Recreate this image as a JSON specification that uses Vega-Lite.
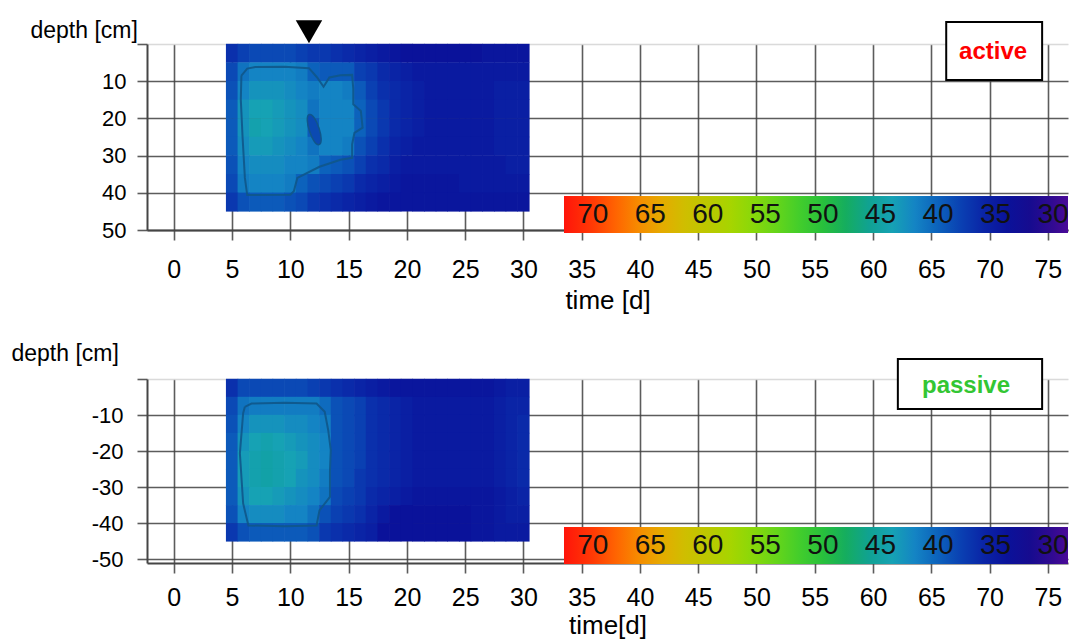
{
"$schema": "https://vega.github.io/schema/vega-lite/v6.json",
"autosize": {"type": "none"},
"padding": {"left": 147, "top": 44, "right": 923, "bottom": 595},
"background": "white",
"config": {
 "view": {"stroke": null},
 "font": "Liberation Sans",
 "axis": {"labelFont": "Liberation Sans", "titleFont": "Liberation Sans", "labelColor": "#000", "titleColor": "#000", "titleFontWeight": "normal", "gridColor": "#404040", "gridWidth": 1.6, "gridOpacity": 0.85, "tickColor": "#404040", "tickWidth": 1.6, "tickOpacity": 0.85, "tickSize": 10, "domainColor": "#454545", "domainWidth": 2, "labelFlush": false, "labelOverlap": false}
},
"datasets": {
 "active": [
{"t":5,"d":2.5,"v":37},{"t":6,"d":2.5,"v":38},{"t":7,"d":2.5,"v":38.5},{"t":8,"d":2.5,"v":38.5},{"t":9,"d":2.5,"v":38.5},{"t":10,"d":2.5,"v":38.5},{"t":11,"d":2.5,"v":38},{"t":12,"d":2.5,"v":37.5},{"t":13,"d":2.5,"v":37.5},{"t":14,"d":2.5,"v":37},{"t":15,"d":2.5,"v":36.5},{"t":16,"d":2.5,"v":36},{"t":17,"d":2.5,"v":35.5},{"t":18,"d":2.5,"v":35},{"t":19,"d":2.5,"v":34.5},{"t":20,"d":2.5,"v":34},{"t":21,"d":2.5,"v":34},{"t":22,"d":2.5,"v":34},{"t":23,"d":2.5,"v":34},{"t":24,"d":2.5,"v":34},{"t":25,"d":2.5,"v":34},{"t":26,"d":2.5,"v":34},{"t":27,"d":2.5,"v":34.5},{"t":28,"d":2.5,"v":34.5},{"t":29,"d":2.5,"v":34.5},{"t":30,"d":2.5,"v":34.5},
{"t":5,"d":7.5,"v":38.5},{"t":6,"d":7.5,"v":41},{"t":7,"d":7.5,"v":42},{"t":8,"d":7.5,"v":42},{"t":9,"d":7.5,"v":42},{"t":10,"d":7.5,"v":42},{"t":11,"d":7.5,"v":41.5},{"t":12,"d":7.5,"v":40},{"t":13,"d":7.5,"v":39.5},{"t":14,"d":7.5,"v":39.5},{"t":15,"d":7.5,"v":39.5},{"t":16,"d":7.5,"v":38},{"t":17,"d":7.5,"v":37.5},{"t":18,"d":7.5,"v":36.5},{"t":19,"d":7.5,"v":36},{"t":20,"d":7.5,"v":35.5},{"t":21,"d":7.5,"v":35},{"t":22,"d":7.5,"v":35},{"t":23,"d":7.5,"v":35},{"t":24,"d":7.5,"v":35},{"t":25,"d":7.5,"v":35},{"t":26,"d":7.5,"v":35},{"t":27,"d":7.5,"v":35},{"t":28,"d":7.5,"v":35},{"t":29,"d":7.5,"v":35},{"t":30,"d":7.5,"v":35},
{"t":5,"d":12.5,"v":39},{"t":6,"d":12.5,"v":42},{"t":7,"d":12.5,"v":43},{"t":8,"d":12.5,"v":43},{"t":9,"d":12.5,"v":43},{"t":10,"d":12.5,"v":42.5},{"t":11,"d":12.5,"v":42},{"t":12,"d":12.5,"v":41.5},{"t":13,"d":12.5,"v":42},{"t":14,"d":12.5,"v":42},{"t":15,"d":12.5,"v":41.5},{"t":16,"d":12.5,"v":39.5},{"t":17,"d":12.5,"v":38},{"t":18,"d":12.5,"v":37},{"t":19,"d":12.5,"v":36.5},{"t":20,"d":12.5,"v":36},{"t":21,"d":12.5,"v":35.5},{"t":22,"d":12.5,"v":35},{"t":23,"d":12.5,"v":35},{"t":24,"d":12.5,"v":35},{"t":25,"d":12.5,"v":35},{"t":26,"d":12.5,"v":35},{"t":27,"d":12.5,"v":35},{"t":28,"d":12.5,"v":35.5},{"t":29,"d":12.5,"v":35.5},{"t":30,"d":12.5,"v":35.5},
{"t":5,"d":17.5,"v":39.5},{"t":6,"d":17.5,"v":43},{"t":7,"d":17.5,"v":44},{"t":8,"d":17.5,"v":44},{"t":9,"d":17.5,"v":43.5},{"t":10,"d":17.5,"v":43},{"t":11,"d":17.5,"v":42.5},{"t":12,"d":17.5,"v":41},{"t":13,"d":17.5,"v":42},{"t":14,"d":17.5,"v":42},{"t":15,"d":17.5,"v":42},{"t":16,"d":17.5,"v":40},{"t":17,"d":17.5,"v":38.5},{"t":18,"d":17.5,"v":37.5},{"t":19,"d":17.5,"v":36.5},{"t":20,"d":17.5,"v":36},{"t":21,"d":17.5,"v":35.5},{"t":22,"d":17.5,"v":35},{"t":23,"d":17.5,"v":35},{"t":24,"d":17.5,"v":35},{"t":25,"d":17.5,"v":35},{"t":26,"d":17.5,"v":35},{"t":27,"d":17.5,"v":35},{"t":28,"d":17.5,"v":35.5},{"t":29,"d":17.5,"v":35.5},{"t":30,"d":17.5,"v":35.5},
{"t":5,"d":22.5,"v":39.5},{"t":6,"d":22.5,"v":43},{"t":7,"d":22.5,"v":44.5},{"t":8,"d":22.5,"v":44},{"t":9,"d":22.5,"v":43.5},{"t":10,"d":22.5,"v":43},{"t":11,"d":22.5,"v":42.5},{"t":12,"d":22.5,"v":39.5},{"t":13,"d":22.5,"v":42},{"t":14,"d":22.5,"v":42},{"t":15,"d":22.5,"v":42},{"t":16,"d":22.5,"v":40},{"t":17,"d":22.5,"v":38.5},{"t":18,"d":22.5,"v":37.5},{"t":19,"d":22.5,"v":36.5},{"t":20,"d":22.5,"v":36},{"t":21,"d":22.5,"v":35.5},{"t":22,"d":22.5,"v":35},{"t":23,"d":22.5,"v":35},{"t":24,"d":22.5,"v":35},{"t":25,"d":22.5,"v":35},{"t":26,"d":22.5,"v":35},{"t":27,"d":22.5,"v":35},{"t":28,"d":22.5,"v":35.5},{"t":29,"d":22.5,"v":35.5},{"t":30,"d":22.5,"v":35.5},
{"t":5,"d":27.5,"v":39.5},{"t":6,"d":27.5,"v":42.5},{"t":7,"d":27.5,"v":43.5},{"t":8,"d":27.5,"v":43.5},{"t":9,"d":27.5,"v":43},{"t":10,"d":27.5,"v":42.5},{"t":11,"d":27.5,"v":42},{"t":12,"d":27.5,"v":41},{"t":13,"d":27.5,"v":42},{"t":14,"d":27.5,"v":42},{"t":15,"d":27.5,"v":41.5},{"t":16,"d":27.5,"v":39},{"t":17,"d":27.5,"v":38},{"t":18,"d":27.5,"v":37},{"t":19,"d":27.5,"v":36},{"t":20,"d":27.5,"v":35.5},{"t":21,"d":27.5,"v":35},{"t":22,"d":27.5,"v":35},{"t":23,"d":27.5,"v":35},{"t":24,"d":27.5,"v":35},{"t":25,"d":27.5,"v":35},{"t":26,"d":27.5,"v":35},{"t":27,"d":27.5,"v":35},{"t":28,"d":27.5,"v":35.5},{"t":29,"d":27.5,"v":35.5},{"t":30,"d":27.5,"v":35.5},
{"t":5,"d":32.5,"v":39},{"t":6,"d":32.5,"v":42},{"t":7,"d":32.5,"v":42.5},{"t":8,"d":32.5,"v":42.5},{"t":9,"d":32.5,"v":42.5},{"t":10,"d":32.5,"v":42},{"t":11,"d":32.5,"v":42},{"t":12,"d":32.5,"v":41.5},{"t":13,"d":32.5,"v":40},{"t":14,"d":32.5,"v":39.5},{"t":15,"d":32.5,"v":39},{"t":16,"d":32.5,"v":38},{"t":17,"d":32.5,"v":37},{"t":18,"d":32.5,"v":36.5},{"t":19,"d":32.5,"v":35.5},{"t":20,"d":32.5,"v":35},{"t":21,"d":32.5,"v":35},{"t":22,"d":32.5,"v":35},{"t":23,"d":32.5,"v":35},{"t":24,"d":32.5,"v":35},{"t":25,"d":32.5,"v":35},{"t":26,"d":32.5,"v":35},{"t":27,"d":32.5,"v":35},{"t":28,"d":32.5,"v":35},{"t":29,"d":32.5,"v":35.5},{"t":30,"d":32.5,"v":35.5},
{"t":5,"d":37.5,"v":38.5},{"t":6,"d":37.5,"v":41.5},{"t":7,"d":37.5,"v":42},{"t":8,"d":37.5,"v":42},{"t":9,"d":37.5,"v":42},{"t":10,"d":37.5,"v":41.5},{"t":11,"d":37.5,"v":40},{"t":12,"d":37.5,"v":39},{"t":13,"d":37.5,"v":38.5},{"t":14,"d":37.5,"v":38},{"t":15,"d":37.5,"v":37.5},{"t":16,"d":37.5,"v":36.5},{"t":17,"d":37.5,"v":36},{"t":18,"d":37.5,"v":35.5},{"t":19,"d":37.5,"v":35},{"t":20,"d":37.5,"v":34.5},{"t":21,"d":37.5,"v":34.5},{"t":22,"d":37.5,"v":34.5},{"t":23,"d":37.5,"v":34.5},{"t":24,"d":37.5,"v":34.5},{"t":25,"d":37.5,"v":35},{"t":26,"d":37.5,"v":35},{"t":27,"d":37.5,"v":35},{"t":28,"d":37.5,"v":35},{"t":29,"d":37.5,"v":35},{"t":30,"d":37.5,"v":35},
{"t":5,"d":42.5,"v":37.5},{"t":6,"d":42.5,"v":39},{"t":7,"d":42.5,"v":39.5},{"t":8,"d":42.5,"v":39.5},{"t":9,"d":42.5,"v":39.5},{"t":10,"d":42.5,"v":39},{"t":11,"d":42.5,"v":38.5},{"t":12,"d":42.5,"v":37.5},{"t":13,"d":42.5,"v":37},{"t":14,"d":42.5,"v":36.5},{"t":15,"d":42.5,"v":36},{"t":16,"d":42.5,"v":35.5},{"t":17,"d":42.5,"v":35},{"t":18,"d":42.5,"v":34.5},{"t":19,"d":42.5,"v":34.5},{"t":20,"d":42.5,"v":34.5},{"t":21,"d":42.5,"v":34.5},{"t":22,"d":42.5,"v":34.5},{"t":23,"d":42.5,"v":34.5},{"t":24,"d":42.5,"v":34.5},{"t":25,"d":42.5,"v":34.5},{"t":26,"d":42.5,"v":34.5},{"t":27,"d":42.5,"v":34.5},{"t":28,"d":42.5,"v":34.5},{"t":29,"d":42.5,"v":34.5},{"t":30,"d":42.5,"v":34.5}
 ],
 "passive": [
{"t":5,"d":-2.5,"v":37},{"t":6,"d":-2.5,"v":38.5},{"t":7,"d":-2.5,"v":38.5},{"t":8,"d":-2.5,"v":38.5},{"t":9,"d":-2.5,"v":38.5},{"t":10,"d":-2.5,"v":38.5},{"t":11,"d":-2.5,"v":38.5},{"t":12,"d":-2.5,"v":38},{"t":13,"d":-2.5,"v":37.5},{"t":14,"d":-2.5,"v":37},{"t":15,"d":-2.5,"v":36.5},{"t":16,"d":-2.5,"v":36},{"t":17,"d":-2.5,"v":35.5},{"t":18,"d":-2.5,"v":35},{"t":19,"d":-2.5,"v":34.5},{"t":20,"d":-2.5,"v":34.5},{"t":21,"d":-2.5,"v":34.5},{"t":22,"d":-2.5,"v":34.5},{"t":23,"d":-2.5,"v":34.5},{"t":24,"d":-2.5,"v":34.5},{"t":25,"d":-2.5,"v":34.5},{"t":26,"d":-2.5,"v":34.5},{"t":27,"d":-2.5,"v":34.5},{"t":28,"d":-2.5,"v":35},{"t":29,"d":-2.5,"v":35.5},{"t":30,"d":-2.5,"v":35.5},
{"t":5,"d":-7.5,"v":38.5},{"t":6,"d":-7.5,"v":41},{"t":7,"d":-7.5,"v":41.5},{"t":8,"d":-7.5,"v":41.5},{"t":9,"d":-7.5,"v":41.5},{"t":10,"d":-7.5,"v":41.5},{"t":11,"d":-7.5,"v":41.5},{"t":12,"d":-7.5,"v":41.5},{"t":13,"d":-7.5,"v":40.5},{"t":14,"d":-7.5,"v":39},{"t":15,"d":-7.5,"v":38.5},{"t":16,"d":-7.5,"v":38},{"t":17,"d":-7.5,"v":37},{"t":18,"d":-7.5,"v":36.5},{"t":19,"d":-7.5,"v":36},{"t":20,"d":-7.5,"v":35.5},{"t":21,"d":-7.5,"v":35},{"t":22,"d":-7.5,"v":35},{"t":23,"d":-7.5,"v":35},{"t":24,"d":-7.5,"v":35},{"t":25,"d":-7.5,"v":35},{"t":26,"d":-7.5,"v":35},{"t":27,"d":-7.5,"v":35},{"t":28,"d":-7.5,"v":35.5},{"t":29,"d":-7.5,"v":36},{"t":30,"d":-7.5,"v":36},
{"t":5,"d":-12.5,"v":39},{"t":6,"d":-12.5,"v":42},{"t":7,"d":-12.5,"v":43},{"t":8,"d":-12.5,"v":43},{"t":9,"d":-12.5,"v":43},{"t":10,"d":-12.5,"v":42.5},{"t":11,"d":-12.5,"v":42.5},{"t":12,"d":-12.5,"v":42},{"t":13,"d":-12.5,"v":41.5},{"t":14,"d":-12.5,"v":39},{"t":15,"d":-12.5,"v":38.5},{"t":16,"d":-12.5,"v":38},{"t":17,"d":-12.5,"v":37},{"t":18,"d":-12.5,"v":36.5},{"t":19,"d":-12.5,"v":36},{"t":20,"d":-12.5,"v":35.5},{"t":21,"d":-12.5,"v":35},{"t":22,"d":-12.5,"v":35},{"t":23,"d":-12.5,"v":35},{"t":24,"d":-12.5,"v":35},{"t":25,"d":-12.5,"v":35},{"t":26,"d":-12.5,"v":35},{"t":27,"d":-12.5,"v":35},{"t":28,"d":-12.5,"v":35.5},{"t":29,"d":-12.5,"v":36},{"t":30,"d":-12.5,"v":36.5},
{"t":5,"d":-17.5,"v":39.5},{"t":6,"d":-17.5,"v":43},{"t":7,"d":-17.5,"v":44},{"t":8,"d":-17.5,"v":44.5},{"t":9,"d":-17.5,"v":44},{"t":10,"d":-17.5,"v":43.5},{"t":11,"d":-17.5,"v":43},{"t":12,"d":-17.5,"v":42.5},{"t":13,"d":-17.5,"v":42},{"t":14,"d":-17.5,"v":39},{"t":15,"d":-17.5,"v":38.5},{"t":16,"d":-17.5,"v":38},{"t":17,"d":-17.5,"v":37},{"t":18,"d":-17.5,"v":36.5},{"t":19,"d":-17.5,"v":36},{"t":20,"d":-17.5,"v":35.5},{"t":21,"d":-17.5,"v":35},{"t":22,"d":-17.5,"v":35},{"t":23,"d":-17.5,"v":35},{"t":24,"d":-17.5,"v":35},{"t":25,"d":-17.5,"v":35},{"t":26,"d":-17.5,"v":35},{"t":27,"d":-17.5,"v":35},{"t":28,"d":-17.5,"v":35.5},{"t":29,"d":-17.5,"v":36},{"t":30,"d":-17.5,"v":36.5},
{"t":5,"d":-22.5,"v":39.5},{"t":6,"d":-22.5,"v":43.5},{"t":7,"d":-22.5,"v":44.5},{"t":8,"d":-22.5,"v":45},{"t":9,"d":-22.5,"v":44.5},{"t":10,"d":-22.5,"v":44},{"t":11,"d":-22.5,"v":43.5},{"t":12,"d":-22.5,"v":42.5},{"t":13,"d":-22.5,"v":42},{"t":14,"d":-22.5,"v":39},{"t":15,"d":-22.5,"v":38.5},{"t":16,"d":-22.5,"v":38},{"t":17,"d":-22.5,"v":37},{"t":18,"d":-22.5,"v":36.5},{"t":19,"d":-22.5,"v":36},{"t":20,"d":-22.5,"v":35.5},{"t":21,"d":-22.5,"v":35},{"t":22,"d":-22.5,"v":35},{"t":23,"d":-22.5,"v":35},{"t":24,"d":-22.5,"v":35},{"t":25,"d":-22.5,"v":35},{"t":26,"d":-22.5,"v":35},{"t":27,"d":-22.5,"v":35},{"t":28,"d":-22.5,"v":35.5},{"t":29,"d":-22.5,"v":36},{"t":30,"d":-22.5,"v":36.5},
{"t":5,"d":-27.5,"v":39.5},{"t":6,"d":-27.5,"v":43.5},{"t":7,"d":-27.5,"v":44.5},{"t":8,"d":-27.5,"v":45},{"t":9,"d":-27.5,"v":44.5},{"t":10,"d":-27.5,"v":44},{"t":11,"d":-27.5,"v":43},{"t":12,"d":-27.5,"v":42.5},{"t":13,"d":-27.5,"v":41.5},{"t":14,"d":-27.5,"v":39},{"t":15,"d":-27.5,"v":38.5},{"t":16,"d":-27.5,"v":37.5},{"t":17,"d":-27.5,"v":37},{"t":18,"d":-27.5,"v":36.5},{"t":19,"d":-27.5,"v":36},{"t":20,"d":-27.5,"v":35.5},{"t":21,"d":-27.5,"v":35},{"t":22,"d":-27.5,"v":35},{"t":23,"d":-27.5,"v":35},{"t":24,"d":-27.5,"v":35},{"t":25,"d":-27.5,"v":35},{"t":26,"d":-27.5,"v":35},{"t":27,"d":-27.5,"v":35},{"t":28,"d":-27.5,"v":35.5},{"t":29,"d":-27.5,"v":36},{"t":30,"d":-27.5,"v":36.5},
{"t":5,"d":-32.5,"v":39.5},{"t":6,"d":-32.5,"v":43},{"t":7,"d":-32.5,"v":44},{"t":8,"d":-32.5,"v":44},{"t":9,"d":-32.5,"v":43.5},{"t":10,"d":-32.5,"v":43},{"t":11,"d":-32.5,"v":42.5},{"t":12,"d":-32.5,"v":42},{"t":13,"d":-32.5,"v":41},{"t":14,"d":-32.5,"v":38.5},{"t":15,"d":-32.5,"v":38},{"t":16,"d":-32.5,"v":37.5},{"t":17,"d":-32.5,"v":36.5},{"t":18,"d":-32.5,"v":36},{"t":19,"d":-32.5,"v":35.5},{"t":20,"d":-32.5,"v":35},{"t":21,"d":-32.5,"v":34.5},{"t":22,"d":-32.5,"v":34.5},{"t":23,"d":-32.5,"v":34.5},{"t":24,"d":-32.5,"v":34.5},{"t":25,"d":-32.5,"v":34.5},{"t":26,"d":-32.5,"v":34.5},{"t":27,"d":-32.5,"v":34.5},{"t":28,"d":-32.5,"v":35},{"t":29,"d":-32.5,"v":35.5},{"t":30,"d":-32.5,"v":36},
{"t":5,"d":-37.5,"v":39},{"t":6,"d":-37.5,"v":42},{"t":7,"d":-37.5,"v":42.5},{"t":8,"d":-37.5,"v":42.5},{"t":9,"d":-37.5,"v":42.5},{"t":10,"d":-37.5,"v":42},{"t":11,"d":-37.5,"v":42},{"t":12,"d":-37.5,"v":41},{"t":13,"d":-37.5,"v":39},{"t":14,"d":-37.5,"v":38},{"t":15,"d":-37.5,"v":37.5},{"t":16,"d":-37.5,"v":37},{"t":17,"d":-37.5,"v":36},{"t":18,"d":-37.5,"v":35},{"t":19,"d":-37.5,"v":34},{"t":20,"d":-37.5,"v":34},{"t":21,"d":-37.5,"v":34},{"t":22,"d":-37.5,"v":34},{"t":23,"d":-37.5,"v":34},{"t":24,"d":-37.5,"v":34},{"t":25,"d":-37.5,"v":34},{"t":26,"d":-37.5,"v":34.5},{"t":27,"d":-37.5,"v":34.5},{"t":28,"d":-37.5,"v":35},{"t":29,"d":-37.5,"v":35.5},{"t":30,"d":-37.5,"v":35.5},
{"t":5,"d":-42.5,"v":37.5},{"t":6,"d":-42.5,"v":39},{"t":7,"d":-42.5,"v":39.5},{"t":8,"d":-42.5,"v":39.5},{"t":9,"d":-42.5,"v":39.5},{"t":10,"d":-42.5,"v":39.5},{"t":11,"d":-42.5,"v":39.5},{"t":12,"d":-42.5,"v":39},{"t":13,"d":-42.5,"v":37.5},{"t":14,"d":-42.5,"v":37},{"t":15,"d":-42.5,"v":36.5},{"t":16,"d":-42.5,"v":36},{"t":17,"d":-42.5,"v":35.5},{"t":18,"d":-42.5,"v":34},{"t":19,"d":-42.5,"v":34},{"t":20,"d":-42.5,"v":34},{"t":21,"d":-42.5,"v":34},{"t":22,"d":-42.5,"v":34},{"t":23,"d":-42.5,"v":34},{"t":24,"d":-42.5,"v":34},{"t":25,"d":-42.5,"v":34},{"t":26,"d":-42.5,"v":34.5},{"t":27,"d":-42.5,"v":34.5},{"t":28,"d":-42.5,"v":35},{"t":29,"d":-42.5,"v":35},{"t":30,"d":-42.5,"v":35}
 ],
 "outlineA": [
{"i":1,"t":5.8,"d":8.5},{"i":2,"t":6.3,"d":6.6},{"i":3,"t":7.0,"d":6.2},{"i":4,"t":9.5,"d":6.1},{"i":5,"t":11.6,"d":6.5},{"i":6,"t":12.3,"d":9.0},{"i":7,"t":12.85,"d":11.5},{"i":8,"t":13.35,"d":9.0},{"i":9,"t":14.3,"d":8.4},{"i":10,"t":15.3,"d":8.3},{"i":11,"t":15.4,"d":12},{"i":12,"t":15.4,"d":16.2},{"i":13,"t":16.05,"d":18},{"i":14,"t":16.2,"d":22.5},{"i":15,"t":15.5,"d":23.9},{"i":16,"t":15.3,"d":27},{"i":17,"t":15.3,"d":30.6},{"i":18,"t":14.3,"d":31.1},{"i":19,"t":12.5,"d":33},{"i":20,"t":10.6,"d":36},{"i":21,"t":10.3,"d":39.6},{"i":22,"t":10.0,"d":40.5},{"i":23,"t":6.3,"d":40.6},{"i":24,"t":6.1,"d":36},{"i":25,"t":5.9,"d":25},{"i":26,"t":5.75,"d":15},{"i":27,"t":5.8,"d":8.5}
 ],
 "outlineP": [
{"i":1,"t":6.1,"d":-7.7},{"i":2,"t":6.67,"d":-6.8},{"i":3,"t":9.5,"d":-6.6},{"i":4,"t":12.25,"d":-6.8},{"i":5,"t":12.95,"d":-9.1},{"i":6,"t":13.25,"d":-14.2},{"i":7,"t":13.47,"d":-19.7},{"i":8,"t":13.4,"d":-25.3},{"i":9,"t":13.4,"d":-32.7},{"i":10,"t":12.5,"d":-36.4},{"i":11,"t":12.25,"d":-40.6},{"i":12,"t":9.5,"d":-40.8},{"i":13,"t":6.4,"d":-40.6},{"i":14,"t":5.95,"d":-34.5},{"i":15,"t":5.67,"d":-20.6},{"i":16,"t":5.95,"d":-9.5},{"i":17,"t":6.1,"d":-7.7}
 ]
},
"vconcat": [
 {
  "width": 921, "height": 186,
  "layer": [
   {
    "data": {"name": "active"},
    "mark": {"type": "rect", "width": 12.3, "height": 19},
    "encoding": {
     "x": {"field": "t", "type": "quantitative", "scale": {"domain": [-2.3, 76.73], "nice": false, "zero": false},
      "axis": {"values": [0,5,10,15,20,25,30,35,40,45,50,55,60,65,70,75], "tickCount": 40, "title": "time [d]", "labelFontSize": 25, "labelPadding": 17, "labelOverlap": false, "titleFontSize": 26, "titleY": 70, "titleBaseline": "middle", "grid": true}},
     "y": {"field": "d", "type": "quantitative", "scale": {"domain": [0, 50], "reverse": true, "nice": false, "zero": false},
      "axis": {"values": [0,10,20,30,40,50], "tickCount": 20, "labelExpr": "datum.value === 0 ? '' : datum.label", "labelOverlap": false, "title": "depth [cm]", "titleAngle": 0, "titleAlign": "left", "titleBaseline": "alphabetic", "titleX": -117, "titleY": -7, "titleFontSize": 23, "labelFontSize": 22, "labelPadding": 11, "grid": true,
       "gridColor": {"condition": {"test": "datum.value === 0", "value": "#d4d4d4"}, "value": "#404040"}}},
     "color": {"field": "v", "type": "quantitative",
      "scale": {"type": "linear", "interpolate": "rgb", "clamp": true,
       "domain": [72.5, 70, 67.5, 65, 62.5, 60, 57.5, 55, 52.5, 50, 47.5, 45.5, 44, 42, 40, 38, 37, 36, 35, 34, 33, 31, 28.7],
       "range": ["#ff140a", "#ff3a05", "#ff6e00", "#f0a000", "#d4bc00", "#bcc800", "#a0d800", "#78d810", "#48d028", "#28c03c", "#10a868", "#10a0a0", "#16a2b4", "#1484c4", "#0c62bc", "#0a40b2", "#0a30ac", "#0a24a6", "#0a1aa0", "#0a129a", "#0c0c92", "#200a8c", "#4a0a98"]},
      "legend": {"orient": "none", "legendX": 417, "legendY": 152, "direction": "horizontal", "title": null, "gradientLength": 504, "gradientThickness": 37, "gradientStrokeWidth": 0, "values": [70,65,60,55,50,45,40,35,30], "labelFont": "Liberation Sans", "labelFontSize": 28, "labelColor": "#111", "labelBaseline": "middle", "labelOffset": -32, "labelOverlap": false}}
    }
   },
   {
    "data": {"name": "outlineA"},
    "mark": {"type": "line", "stroke": "#10568a", "strokeWidth": 2, "opacity": 0.9},
    "encoding": {"x": {"field": "t", "type": "quantitative"}, "y": {"field": "d", "type": "quantitative"}, "order": {"field": "i"}}
   },
   {
    "data": {"values": [{"t": 12.05, "d": 23}]},
    "mark": {"type": "point", "shape": "M0,-1C0.42,-1 0.42,1 0,1C-0.42,1 -0.42,-1 0,-1Z", "size": 1000, "angle": -18, "filled": true, "fill": "#0b4ab2", "stroke": "#10568a", "strokeWidth": 1.5, "opacity": 1},
    "encoding": {"x": {"field": "t", "type": "quantitative"}, "y": {"field": "d", "type": "quantitative"}}
   },
   {
    "data": {"values": [{"t": 11.6}]},
    "mark": {"type": "point", "shape": "triangle-down", "filled": true, "color": "#000", "size": 700, "opacity": 1},
    "encoding": {"x": {"field": "t", "type": "quantitative"}, "y": {"datum": -3.3}}
   },
   {
    "data": {"values": [{"mode": "active"}]},
    "mark": {"type": "rect", "fill": "#fff", "stroke": "#000", "strokeWidth": 2},
    "encoding": {"x": {"datum": 66.28}, "x2": {"datum": 74.51}, "y": {"datum": -5.91}, "y2": {"datum": 9.68}}
   },
   {
    "data": {"values": [{"mode": "active"}]},
    "mark": {"type": "text", "font": "Liberation Sans", "fontSize": 24, "fontWeight": "bold", "color": "#ff0000", "align": "center", "baseline": "middle"},
    "encoding": {"x": {"datum": 70.3}, "y": {"datum": 2.15}, "text": {"field": "mode"}}
   }
  ]
 },
 {
  "width": 921, "height": 184,
  "layer": [
   {
    "data": {"name": "passive"},
    "mark": {"type": "rect", "width": 12.3, "height": 18.5},
    "encoding": {
     "x": {"field": "t", "type": "quantitative", "scale": {"domain": [-2.3, 76.73], "nice": false, "zero": false},
      "axis": {"values": [0,5,10,15,20,25,30,35,40,45,50,55,60,65,70,75], "tickCount": 40, "title": "time[d]", "labelFontSize": 25, "labelPadding": 12, "labelOverlap": false, "titleFontSize": 26, "titleY": 62, "titleBaseline": "middle", "grid": true}},
     "y": {"field": "d", "type": "quantitative", "scale": {"domain": [-51, 0], "nice": false, "zero": false},
      "axis": {"values": [-50,-40,-30,-20,-10,0], "tickCount": 20, "labelExpr": "datum.value === 0 ? '' : '-' + format(abs(datum.value), 'd')", "labelOverlap": false, "title": "depth [cm]", "titleAngle": 0, "titleAlign": "left", "titleBaseline": "alphabetic", "titleX": -136, "titleY": -19, "titleFontSize": 23, "labelFontSize": 22, "labelPadding": 14, "grid": true,
       "gridColor": {"condition": {"test": "datum.value === 0", "value": "#d4d4d4"}, "value": "#404040"}}},
     "color": {"field": "v", "type": "quantitative",
      "scale": {"type": "linear", "interpolate": "rgb", "clamp": true,
       "domain": [72.5, 70, 67.5, 65, 62.5, 60, 57.5, 55, 52.5, 50, 47.5, 45.5, 44, 42, 40, 38, 37, 36, 35, 34, 33, 31, 28.7],
       "range": ["#ff140a", "#ff3a05", "#ff6e00", "#f0a000", "#d4bc00", "#bcc800", "#a0d800", "#78d810", "#48d028", "#28c03c", "#10a868", "#10a0a0", "#16a2b4", "#1484c4", "#0c62bc", "#0a40b2", "#0a30ac", "#0a24a6", "#0a1aa0", "#0a129a", "#0c0c92", "#200a8c", "#4a0a98"]},
      "legend": {"orient": "none", "legendX": 417, "legendY": 148, "direction": "horizontal", "title": null, "gradientLength": 504, "gradientThickness": 37, "gradientStrokeWidth": 0, "values": [70,65,60,55,50,45,40,35,30], "labelFont": "Liberation Sans", "labelFontSize": 28, "labelColor": "#111", "labelBaseline": "middle", "labelOffset": -32, "labelOverlap": false}}
    }
   },
   {
    "data": {"name": "outlineP"},
    "mark": {"type": "line", "stroke": "#10568a", "strokeWidth": 2, "opacity": 0.9},
    "encoding": {"x": {"field": "t", "type": "quantitative"}, "y": {"field": "d", "type": "quantitative"}, "order": {"field": "i"}}
   },
   {
    "data": {"values": [{"mode": "passive"}]},
    "mark": {"type": "rect", "fill": "#fff", "stroke": "#000", "strokeWidth": 2},
    "encoding": {"x": {"datum": 62.13}, "x2": {"datum": 74.51}, "y": {"datum": 5.54}, "y2": {"datum": -8.31}}
   },
   {
    "data": {"values": [{"mode": "passive"}]},
    "mark": {"type": "text", "font": "Liberation Sans", "fontSize": 24, "fontWeight": "bold", "color": "#33c633", "align": "center", "baseline": "middle"},
    "encoding": {"x": {"datum": 67.98}, "y": {"datum": -1.94}, "text": {"field": "mode"}}
   }
  ]
 }
],
"spacing": 149,
"bounds": "flush",
"resolve": {"scale": {"color": "independent", "x": "independent", "y": "independent"}, "legend": {"color": "independent"}}
}
